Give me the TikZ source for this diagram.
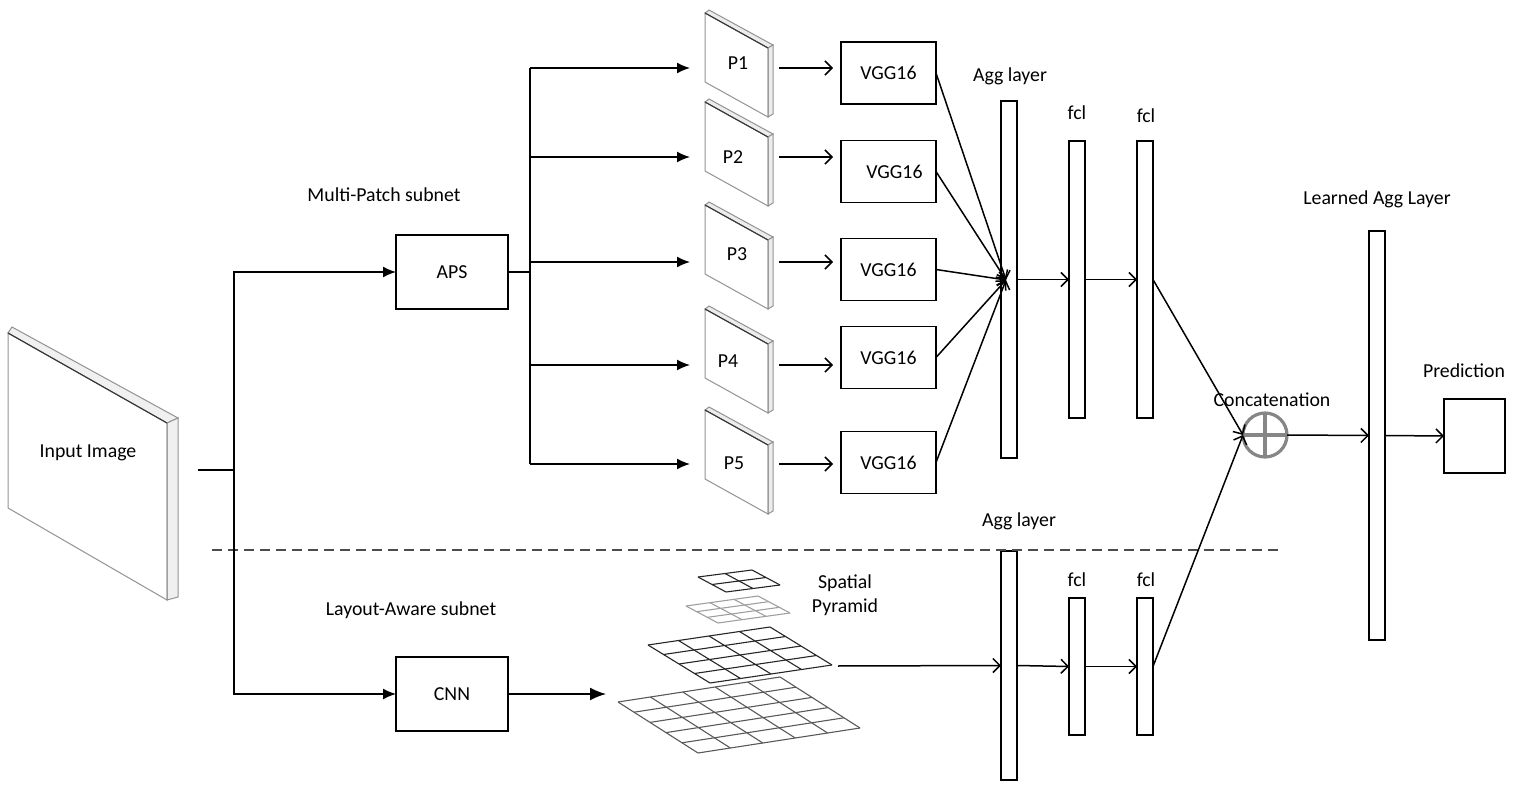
\documentclass[tikz,border=0pt]{standalone}
\usepackage{fontspec}
\setmainfont{Carlito}
\usetikzlibrary{arrows.meta}
\begin{document}
\begin{tikzpicture}[x=0.5pt,y=-0.5pt,
  font=\fontsize{9.9}{12}\selectfont,
  every node/.style={inner sep=0pt,outer sep=0pt},
  line/.style={line width=0.75pt},
  box/.style={draw,line width=0.9pt,minimum width=56pt,minimum height=37pt},
  vgg/.style={draw,line width=0.9pt,minimum width=47.5pt,minimum height=31pt},
  bar/.style={draw,line width=0.9pt,minimum width=8pt},
  farrow/.style={line width=0.75pt,-{Latex[length=6.5pt,width=5.5pt]}},
  oarrow/.style={line width=0.75pt,-{Straight Barb[length=3.5pt,width=7pt]}},
  slabline/.style={draw=gray!85,line width=0.5pt},
  gridline/.style={line width=0.55pt}]
\useasboundingbox (0,0) rectangle (1516,791);

% ---- input image slab
\fill[white] (8,333) -- (167,423) -- (167,600) -- (8,508) -- cycle;
\filldraw[slabline,fill=gray!12] (8,333) -- (12,327) -- (178,418) -- (167,423) -- cycle;
\filldraw[slabline,fill=gray!12] (167,423) -- (178,418) -- (178,597) -- (167,600) -- cycle;
\draw[slabline] (8,333) -- (167,423) -- (167,600) -- (8,508) -- cycle;
\draw[draw=gray!40!black,line width=0.5pt] (8,333) -- (167,423);
\node (inp) at (88,453) {Input Image};
\coordinate (inR) at (198,470);
\coordinate (j1) at (234,470);

% ---- P slabs
\foreach \n/\y/\tx/\ty in {1/13/738/63, 2/102/733/157, 3/205/737/254, 4/309/728/361, 5/410/734/463}{
  \fill[white] (705,\y) -- ++(63,35) -- ++(0,69) -- ++(-63,-35) -- cycle;
  \filldraw[slabline,fill=gray!15] (705,\y) -- ++(4,-3) -- ++(64,35) -- ++(-5,3) -- cycle;
  \filldraw[slabline,fill=gray!15] (768,\y+35) -- ++(5,-3) -- ++(0,69) -- ++(-5,3) -- cycle;
  \draw[slabline] (705,\y) -- ++(63,35) -- ++(0,69) -- ++(-63,-35) -- cycle;
  \draw[gray!40!black,line width=0.5pt] (705,\y) -- ++(63,35);
  \node (P\n) at (\tx,\ty) {P\n};
}

% ---- boxes
\node[box] (aps) at (452,272) {APS};
\node[box] (cnn) at (452,694) {CNN};
\node[vgg] (v1) at (888.5,73) {VGG16};
\node[vgg] (v2) at (888.5,171.5) {\hspace*{6pt}VGG16};
\node[vgg] (v3) at (888.5,269.5) {VGG16};
\node[vgg] (v4) at (888.5,357.5) {VGG16};
\node[vgg] (v5) at (888.5,462.5) {VGG16};

\node[bar,minimum height=178.5pt] (agg) at (1009,279.5) {};
\node[bar,minimum height=138.5pt] (f1) at (1077,279.5) {};
\node[bar,minimum height=138.5pt] (f2) at (1145,279.5) {};
\node[bar,minimum height=114.5pt] (aggL) at (1009,665.5) {};
\node[bar,minimum height=68.5pt] (f1L) at (1077,666.5) {};
\node[bar,minimum height=68.5pt] (f2L) at (1145,666.5) {};
\node[bar,minimum height=204.5pt] (learn) at (1377,435.5) {};
\node[draw,line width=0.9pt,minimum width=30.5pt,minimum height=37pt] (pred) at (1474.5,436) {};
\node[circle,draw=gray!95,line width=1.6pt,minimum size=22pt] (cat) at (1265,435) {};
\draw[gray!95,line width=1.6pt] (cat.north) -- (cat.south) (cat.west) -- (cat.east);

% ---- labels
\node (lmp) at (384,195) {Multi-Patch subnet};
\node (lla) at (411,610) {Layout-Aware subnet};
\node (lagg) at (1010,76) {Agg layer};
\node (laggL) at (1019,521) {Agg layer};
\node (lf1) at (1077,113) {fcl};
\node (lf2) at (1146,116) {fcl};
\node (lf1L) at (1077,580) {fcl};
\node (lf2L) at (1146,580) {fcl};
\node (lcat) at (1272,400) {Concatenation};
\node (llearn) at (1377,199) {Learned Agg Layer};
\node (lpred) at (1464,371) {Prediction};
\node[align=center,font=\fontsize{9.9}{12.2}\selectfont] (lsp) at (845,595) {Spatial\\Pyramid};

% ---- dashed separator
\coordinate (dL) at (212,550);
\coordinate (dR) at (1283,550);
\draw[gray!60!black,line width=0.75pt,dash pattern=on 5pt off 3pt] (dL) -- (dR);

% ---- input connectors
\draw[line] (inR) -- (j1);
\draw[farrow] (j1) |- (aps.west);
\draw[farrow] (j1) |- (cnn.west);

% ---- APS trunk
\coordinate (t0) at (530,272);
\coordinate (tTop) at (530,68);
\coordinate (tBot) at (530,464);
\draw[line width=1.3pt] (aps.east) -- (t0);
\draw[line] (tTop) -- (tBot);
\foreach \n/\y in {1/68,2/157,3/262,4/365,5/464}{
  \coordinate (pin\n) at (690,\y);
  \coordinate (pout\n) at (779,\y);
  \coordinate (vin\n) at (833,\y);
  \draw[farrow] (530,\y) -- (pin\n);
  \draw[oarrow] (pout\n) -- (vin\n);
}

% ---- VGG to Agg
\coordinate (hub) at (1006,280);
\foreach \n in {1,...,5}{ \draw[oarrow] (v\n.east) -- (hub); }
\draw[oarrow] (agg.east) -- (f1.west);
\draw[oarrow] (f1.east) -- (f2.west);
\draw[oarrow] (f2.east) -- (cat.west);
\draw[oarrow] (f2L.east) -- (cat.west);
\draw[oarrow] (cat.east) -- (learn.west);
\draw[oarrow] (learn.east) -- (pred.west);

% ---- spatial pyramid
\coordinate (spIn) at (606,694);
\coordinate (spOut) at (838,666);
\draw[line width=0.75pt,-{Latex[length=8pt,width=6.5pt]}] (cnn.east) -- (spIn);
\draw[oarrow] (spOut) -- (aggL.west);
\draw[oarrow] (aggL.east) -- (f1L.west);
\draw[oarrow] (f1L.east) -- (f2L.west);

\begin{scope}[shift={(618,702)},x={(81pt,12.5pt)},y={(40pt,-25.5pt)},gridline,draw=gray!70!black]
  \foreach \i in {0,...,5}{\draw (\i/5,0) -- (\i/5,1); \draw (0,\i/5) -- (1,\i/5);}
\end{scope}
\begin{scope}[shift={(648,645)},x={(61pt,9pt)},y={(31pt,-19pt)},gridline,draw=black!85]
  \foreach \i in {0,...,4}{\draw (\i/4,0) -- (\i/4,1); \draw (0,\i/4) -- (1,\i/4);}
\end{scope}
\begin{scope}[shift={(686,606)},x={(36pt,5pt)},y={(16pt,-8.5pt)},gridline,draw=gray!75]
  \foreach \i in {0,...,3}{\draw (\i/3,0) -- (\i/3,1); \draw (0,\i/3) -- (1,\i/3);}
\end{scope}
\begin{scope}[shift={(698,577)},x={(27pt,3.5pt)},y={(14pt,-7.5pt)},gridline,draw=black!85]
  \foreach \i in {0,...,2}{\draw (\i/2,0) -- (\i/2,1); \draw (0,\i/2) -- (1,\i/2);}
\end{scope}
\end{tikzpicture}
\end{document}
